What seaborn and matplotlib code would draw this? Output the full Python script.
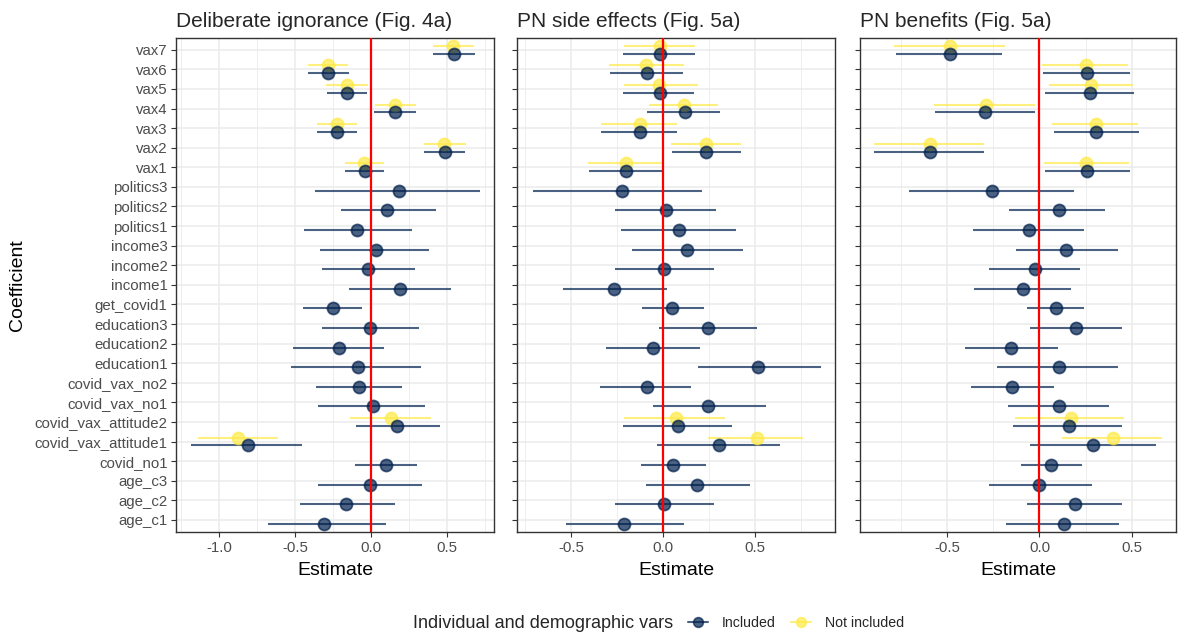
import numpy as np
import pandas as pd
import seaborn as sns
import matplotlib.pyplot as plt
from matplotlib.lines import Line2D

# coefficient names, top to bottom
terms = ["vax7", "vax6", "vax5", "vax4", "vax3", "vax2", "vax1",
         "politics3", "politics2", "politics1", "income3", "income2", "income1",
         "get_covid1", "education3", "education2", "education1",
         "covid_vax_no2", "covid_vax_no1", "covid_vax_attitude2", "covid_vax_attitude1",
         "covid_no1", "age_c3", "age_c2", "age_c1"]

titles = ["Deliberate ignorance (Fig. 4a)", "PN side effects (Fig. 5a)", "PN benefits (Fig. 5a)"]

# model with individual/demographic vars: estimate, lower, upper (same order as terms)
inc_est = {
    0: [0.544, -0.283, -0.160, 0.160, -0.224, 0.485, -0.042,
        0.182, 0.107, -0.094, 0.035, -0.022, 0.193,
        -0.250, -0.007, -0.213, -0.085,
        -0.079, 0.015, 0.173, -0.807,
        0.099, -0.007, -0.162, -0.307],
    1: [-0.018, -0.089, -0.018, 0.120, -0.127, 0.236, -0.201,
        -0.225, 0.014, 0.087, 0.132, 0.007, -0.264,
        0.051, 0.243, -0.056, 0.518,
        -0.089, 0.246, 0.080, 0.306,
        0.054, 0.187, 0.005, -0.210],
    2: [-0.483, 0.258, 0.274, -0.292, 0.306, -0.593, 0.256,
        -0.258, 0.103, -0.056, 0.146, -0.023, -0.090,
        0.088, 0.200, -0.153, 0.103,
        -0.150, 0.103, 0.157, 0.292,
        0.061, -0.004, 0.191, 0.132],
}
inc_lo = {
    0: [0.410, -0.417, -0.287, 0.022, -0.357, 0.351, -0.171,
        -0.366, -0.200, -0.443, -0.335, -0.324, -0.145,
        -0.447, -0.325, -0.515, -0.524,
        -0.364, -0.346, -0.101, -1.182,
        -0.107, -0.346, -0.465, -0.680],
    1: [-0.216, -0.286, -0.216, -0.087, -0.335, 0.051, -0.402,
        -0.707, -0.259, -0.230, -0.167, -0.259, -0.545,
        -0.112, -0.022, -0.310, 0.190,
        -0.341, -0.056, -0.216, -0.034,
        -0.121, -0.094, -0.263, -0.529],
    2: [-0.773, 0.018, 0.029, -0.562, 0.076, -0.894, 0.032,
        -0.706, -0.166, -0.360, -0.126, -0.274, -0.355,
        -0.065, -0.049, -0.404, -0.227,
        -0.371, -0.171, -0.142, -0.049,
        -0.099, -0.274, -0.070, -0.180],
}
inc_hi = {
    0: [0.686, -0.147, -0.026, 0.294, -0.092, 0.620, 0.088,
        0.715, 0.425, 0.268, 0.384, 0.292, 0.524,
        -0.057, 0.314, 0.086, 0.331,
        0.206, 0.357, 0.452, -0.456,
        0.300, 0.336, 0.160, 0.097],
    1: [0.174, 0.109, 0.168, 0.312, 0.074, 0.426, -0.002,
        0.210, 0.286, 0.399, 0.437, 0.277, 0.022,
        0.223, 0.509, 0.203, 0.859,
        0.154, 0.558, 0.375, 0.636,
        0.234, 0.471, 0.276, 0.114],
    2: [-0.204, 0.490, 0.512, -0.023, 0.539, -0.301, 0.492,
        0.184, 0.355, 0.241, 0.425, 0.218, 0.168,
        0.241, 0.445, 0.099, 0.425,
        0.079, 0.378, 0.445, 0.631,
        0.232, 0.283, 0.447, 0.432],
}

# model without them: only vax terms and attitude terms
not_terms = ["vax7", "vax6", "vax5", "vax4", "vax3", "vax2", "vax1",
             "covid_vax_attitude2", "covid_vax_attitude1"]
not_est = {
    0: [0.540, -0.280, -0.158, 0.160, -0.224, 0.483, -0.045, 0.132, -0.877],
    1: [-0.018, -0.091, -0.020, 0.114, -0.127, 0.232, -0.201, 0.071, 0.511],
    2: [-0.481, 0.254, 0.276, -0.290, 0.304, -0.591, 0.252, 0.168, 0.395],
}
not_lo = {
    0: [0.410, -0.413, -0.296, 0.024, -0.355, 0.349, -0.171, -0.136, -1.138],
    1: [-0.210, -0.292, -0.212, -0.074, -0.335, 0.045, -0.406, -0.210, 0.246],
    2: [-0.784, 0.014, 0.054, -0.569, 0.069, -0.892, 0.025, -0.130, 0.123],
}
not_hi = {
    0: [0.680, -0.149, -0.020, 0.294, -0.090, 0.625, 0.088, 0.397, -0.614],
    1: [0.172, 0.114, 0.188, 0.297, 0.074, 0.422, -0.004, 0.339, 0.761],
    2: [-0.184, 0.479, 0.506, -0.023, 0.535, -0.299, 0.485, 0.456, 0.663],
}

rows = []
for p in range(3):
    for i, t in enumerate(terms):
        rows.append([p, t, "Included", inc_est[p][i], inc_lo[p][i], inc_hi[p][i]])
    for i, t in enumerate(not_terms):
        rows.append([p, t, "Not included", not_est[p][i], not_lo[p][i], not_hi[p][i]])
df = pd.DataFrame(rows, columns=["panel", "term", "group", "estimate", "lo", "hi"])
df["ypos"] = df["term"].map({t: i for i, t in enumerate(terms)})
df.loc[df["group"] == "Included", "ypos"] += 0.2
df.loc[df["group"] == "Not included", "ypos"] -= 0.2

sns.set_theme(style="whitegrid")
plt.rcParams["font.family"] = ["Liberation Sans", "DejaVu Sans"]

col_inc = "#00204D"
col_not = "#FFEA46"
pal = {"Included": col_inc, "Not included": col_not}

xlims = [(-1.283, 0.81), (-0.793, 0.935), (-0.97, 0.738)]
ticks = [[-1.0, -0.5, 0.0, 0.5], [-0.5, 0.0, 0.5], [-0.5, 0.0, 0.5]]
minors = [[-1.25, -0.75, -0.25, 0.25, 0.75], [-0.75, -0.25, 0.25, 0.75], [-0.75, -0.25, 0.25]]
lefts = [176, 517, 860]
rights = [494, 835, 1176]

fig = plt.figure(figsize=(11.8, 6.33), dpi=100)
for p in range(3):
    ax = fig.add_axes([lefts[p] / 1180, 1 - 531.7 / 633,
                       (rights[p] - lefts[p]) / 1180, (531.7 - 38) / 633])
    ax.set_facecolor("white")
    sub = df[df["panel"] == p]
    ax.grid(True, color="#EBEBEB", linewidth=1.1, zorder=0)
    for m in minors[p]:
        ax.axvline(m, color="#EBEBEB", linewidth=0.6, zorder=0)
    for g in ["Not included", "Included"]:
        s = sub[sub["group"] == g]
        ax.hlines(s["ypos"], s["lo"], s["hi"], color=pal[g], alpha=0.7,
                  linewidth=1.5, zorder=2)
        sns.scatterplot(data=s, x="estimate", y="ypos", color=pal[g], alpha=0.7,
                        s=75, edgecolor=pal[g], linewidth=1.3, ax=ax,
                        legend=False, zorder=3)
    ax.axvline(0, color="#FF0000", linewidth=1.6, zorder=4)
    ax.set_xlim(*xlims[p])
    ax.set_ylim(len(terms) - 1 + 0.6, -0.6)
    ax.set_xticks(ticks[p])
    ax.set_xticklabels(["%.1f" % t for t in ticks[p]])
    ax.set_yticks(range(len(terms)))
    if p == 0:
        ax.set_yticklabels(terms)
        ax.set_ylabel("Coefficient", fontsize=14, color="black", labelpad=6)
    else:
        ax.set_yticklabels([])
        ax.set_ylabel("")
    ax.set_xlabel("Estimate", fontsize=14, color="black", labelpad=4.5)
    ax.tick_params(axis="both", length=3.5, width=0.8, color="#333333",
                   labelsize=10.8, labelcolor="#4D4D4D", pad=2.5, left=True, bottom=True)
    ax.tick_params(axis="x", pad=3.5)
    for sp in ax.spines.values():
        sp.set_color("#333333")
        sp.set_linewidth(1.0)
    ax.set_title(titles[p], loc="left", fontsize=15, pad=8)

fig.text(413 / 1180, 1 - 623 / 633, "Individual and demographic vars",
         fontsize=13, va="center", ha="left")
handles = [Line2D([], [], color=pal[g], alpha=0.7, marker="o", markersize=7,
                  linewidth=1.5, markeredgewidth=1.2) for g in ["Included", "Not included"]]
fig.legend(handles, ["Included", "Not included"], loc="center left",
           bbox_to_anchor=(682 / 1180, 1 - 623 / 633), ncol=2, frameon=False,
           fontsize=10.2, handlelength=1.4, handletextpad=1.0, columnspacing=1.1,
           borderaxespad=0)

fig.savefig("out.png", dpi=100)
